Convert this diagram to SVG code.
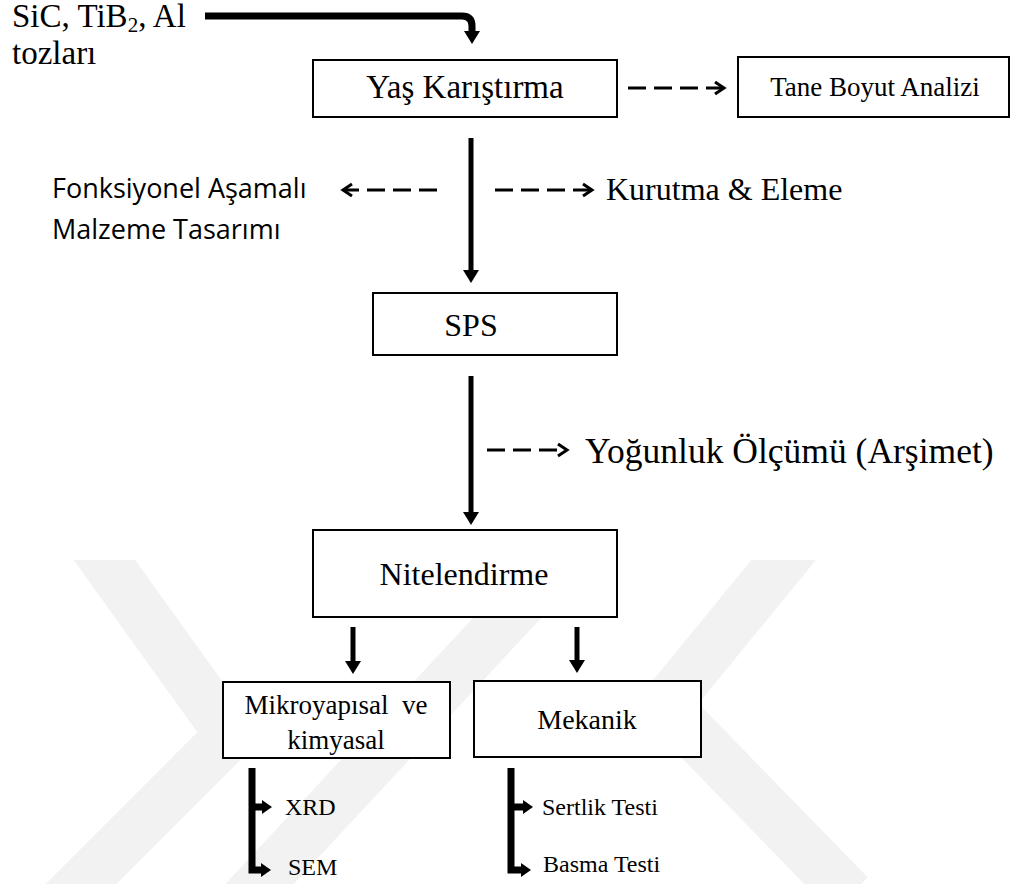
<svg xmlns="http://www.w3.org/2000/svg" width="1013" height="884" viewBox="0 0 1013 884">
<style>
.box{fill:#fff;stroke:#000;stroke-width:2}
.t{font-family:"Liberation Serif","Times New Roman",serif;fill:#000}
.s{font-family:"Open Sans","Liberation Sans",sans-serif;fill:#000}
.solid{fill:none;stroke:#000}
.dash{fill:none;stroke:#000;stroke-width:3;stroke-dasharray:18 8}
.chev{fill:none;stroke:#000;stroke-width:3;stroke-linejoin:miter}
.wm{fill:none;stroke:#f2f2f2;stroke-width:50;stroke-linejoin:miter}
</style>
<defs>
<path id="hd" d="M-13,-8 L0,0 L-13,8 Z" fill="#000"/>
<path id="hs" d="M-10,-7 L0,0 L-10,7 Z" fill="#000"/>
<clipPath id="wmclip"><rect x="0" y="560" width="1013" height="324"/></clipPath>
</defs>
<rect width="1013" height="884" fill="#fff"/>
<g id="watermark" clip-path="url(#wmclip)">
<polyline class="wm" points="90,540 230,735 50,915"/>
<polyline class="wm" points="240,905 575,545"/>
<polyline class="wm" points="800,540 665,705 850,895"/>
</g>
<g id="connectors">
<path class="solid" stroke-width="7" d="M205,16 H462 Q472,16 472,26 V32"/>
<use href="#hd" transform="translate(472,44) rotate(90)"/>
<line class="solid" stroke-width="5" x1="471" y1="138" x2="471" y2="272"/>
<use href="#hd" transform="translate(471,283) rotate(90)"/>
<line class="solid" stroke-width="5" x1="471" y1="376" x2="471" y2="514"/>
<use href="#hd" transform="translate(471,525) rotate(90)"/>
<line class="solid" stroke-width="5" x1="353" y1="627" x2="353" y2="662"/>
<use href="#hd" transform="translate(353,674) rotate(90)"/>
<line class="solid" stroke-width="5" x1="577" y1="627" x2="577" y2="662"/>
<use href="#hd" transform="translate(577,673) rotate(90)"/>
<line class="dash" x1="628" y1="88" x2="722" y2="88"/>
<polyline class="chev" points="715,82 724,88 715,94"/>
<line class="dash" x1="437" y1="190" x2="345" y2="190"/>
<polyline class="chev" points="352,184 343,190 352,196"/>
<line class="dash" x1="495" y1="190" x2="590" y2="190"/>
<polyline class="chev" points="583,184 592,190 583,196"/>
<line class="dash" x1="487" y1="450" x2="565" y2="450"/>
<polyline class="chev" points="558,444 567,450 558,456"/>
<path class="solid" stroke-width="7" d="M252,768 V870 H263"/>
<use href="#hs" transform="translate(271,870)"/>
<line class="solid" stroke-width="7" x1="252" y1="807" x2="263" y2="807"/>
<use href="#hs" transform="translate(272,807)"/>
<path class="solid" stroke-width="7" d="M511,768 V870 H523"/>
<use href="#hs" transform="translate(531,870)"/>
<line class="solid" stroke-width="7" x1="511" y1="807" x2="524" y2="807"/>
<use href="#hs" transform="translate(533,807)"/>
</g>
<g id="input">
<text class="t" x="12" y="27" font-size="33">SiC, TiB<tspan font-size="21" dy="5">2</tspan><tspan dy="-5">, Al</tspan></text>
<text class="t" x="12" y="64" font-size="33">tozları</text>
</g>
<g id="yas">
<rect class="box" x="313" y="60" width="304" height="57"/>
<text class="t" x="465" y="98" font-size="33" text-anchor="middle">Yaş Karıştırma</text>
</g>
<g id="tane">
<rect class="box" x="738" y="57" width="271" height="60"/>
<text class="t" x="875" y="96" font-size="27" text-anchor="middle">Tane Boyut Analizi</text>
</g>
<g id="fonksiyonel">
<text class="s" x="52" y="198" font-size="27">Fonksiyonel Aşamalı</text>
<text class="s" x="52" y="239" font-size="27">Malzeme Tasarımı</text>
</g>
<g id="kurutma">
<text class="t" x="606" y="200" font-size="32">Kurutma &amp; Eleme</text>
</g>
<g id="sps">
<rect class="box" x="373" y="293" width="244" height="62"/>
<text class="t" x="471" y="336" font-size="32" text-anchor="middle">SPS</text>
</g>
<g id="yogunluk">
<text class="t" x="585" y="463" font-size="35.5">Yoğunluk Ölçümü (Arşimet)</text>
</g>
<g id="nitelendirme">
<rect class="box" x="313" y="530" width="304" height="87"/>
<text class="t" x="464" y="585" font-size="32" text-anchor="middle">Nitelendirme</text>
</g>
<g id="mikro">
<rect class="box" x="223" y="682" width="227" height="76"/>
<text class="t" x="336" y="714" font-size="27" text-anchor="middle">Mikroyapısal&#160; ve</text>
<text class="t" x="336" y="749" font-size="27" text-anchor="middle">kimyasal</text>
</g>
<g id="mekanik">
<rect class="box" x="474" y="681" width="227" height="76"/>
<text class="t" x="587" y="729" font-size="28" text-anchor="middle">Mekanik</text>
</g>
<g id="xrd"><text class="t" x="285" y="815" font-size="24">XRD</text></g>
<g id="sem"><text class="t" x="288" y="875" font-size="24">SEM</text></g>
<g id="sertlik"><text class="t" x="542" y="815" font-size="24">Sertlik Testi</text></g>
<g id="basma"><text class="t" x="543" y="872" font-size="24">Basma Testi</text></g>
</svg>
